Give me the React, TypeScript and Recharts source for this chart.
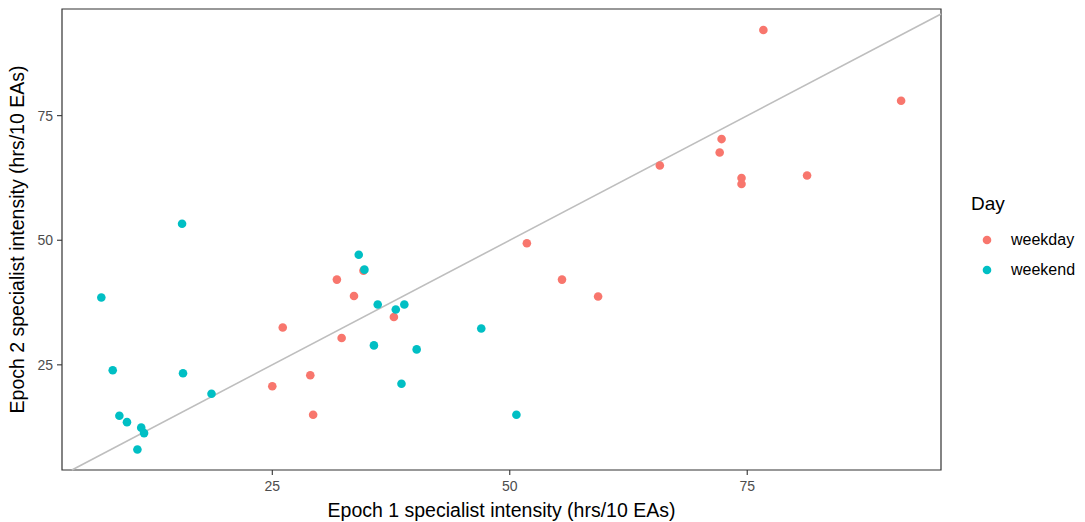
import { ScatterChart, Scatter, XAxis, YAxis, ReferenceLine, ReferenceArea, Legend } from 'recharts';

// ggplot default hue palette
const colors = {
  weekday: '#F8766D',
  weekend: '#00BFC4',
} as const;

const dayLevels = ['weekday', 'weekend'] as const;

// Epoch 1 (x) vs Epoch 2 (y) specialist intensity
const weekdayX = [76.7, 91.2, 72.3, 72.1, 65.8, 74.4, 74.4, 81.3, 51.8, 55.5, 59.3, 31.8, 34.6, 33.6, 37.8, 26.1, 32.3, 29.0, 25.0, 29.3];
const weekdayY = [92.2, 78.0, 70.3, 67.6, 65.0, 62.5, 61.3, 63.0, 49.4, 42.1, 38.7, 42.1, 43.9, 38.8, 34.6, 32.5, 30.4, 22.9, 20.7, 15.0];
const weekendX = [34.1, 34.7, 36.1, 38.0, 38.9, 35.7, 40.2, 47.0, 38.6, 50.7, 15.5, 7.0, 8.2, 15.6, 18.6, 8.9, 9.7, 11.2, 11.5, 10.8];
const weekendY = [47.1, 44.1, 37.1, 36.1, 37.1, 28.9, 28.1, 32.3, 21.2, 15.0, 53.3, 38.5, 23.9, 23.3, 19.2, 14.8, 13.5, 12.4, 11.3, 8.0];

const xTicks = [25, 50, 75];
const yTicks = [25, 50, 75];

const xDomain: [number, number] = [2.86, 95.4];
const yDomain: [number, number] = [3.9, 96.4];

const toPoints = (xs: number[], ys: number[]) => xs.map((x, i) => ({ x, y: ys[i] }));

const weekdayData = toPoints(weekdayX, weekdayY);
const weekendData = toPoints(weekendX, weekendY);

// y = x line clipped to the panel
const diagStart = Math.max(xDomain[0], yDomain[0]);
const diagEnd = Math.min(xDomain[1], yDomain[1]);

const FONT = '"Liberation Sans", Arial, sans-serif';

const Dot = (props: any) => {
  const { cx, cy, fill } = props;
  return <circle cx={cx} cy={cy} r={4.3} fill={fill} />;
};

function DayLegend() {
  return (
    <div style={{ fontFamily: FONT, paddingLeft: 30 }}>
      <div style={{ fontSize: 19, color: '#000', lineHeight: '20px', marginBottom: 11 }}>Day</div>
      {dayLevels.map((d) => (
        <div key={d} style={{ display: 'flex', alignItems: 'center', height: 30 }}>
          <svg width={34} height={30} style={{ marginLeft: -1 }}>
            <circle cx={17} cy={15} r={4.3} fill={colors[d]} />
          </svg>
          <span style={{ fontSize: 16, color: '#000', marginLeft: 7 }}>{d}</span>
        </div>
      ))}
    </div>
  );
}

export default function App() {
  return (
    <div style={{ position: 'absolute', left: 0, top: 0, background: '#fff' }}>
      <ScatterChart
        width={1085}
        height={522}
        margin={{ top: 9, right: 0, bottom: 0, left: 0 }}
        style={{ fontFamily: FONT }}
      >
        <XAxis
          type="number"
          dataKey="x"
          domain={xDomain}
          allowDataOverflow
          ticks={xTicks}
          height={52}
          tickSize={5}
          tickMargin={6}
          tick={{ fontSize: 14, fill: '#4d4d4d' }}
          axisLine={false}
          tickLine={{ stroke: '#333333', strokeWidth: 1.1 }}
          label={{
            value: 'Epoch 1 specialist intensity (hrs/10 EAs)',
            position: 'insideBottom',
            offset: 5,
            style: { fontSize: 19.5, fill: '#000' },
          }}
        />
        <YAxis
          type="number"
          dataKey="y"
          domain={yDomain}
          allowDataOverflow
          ticks={yTicks}
          width={62}
          tickSize={5}
          tickMargin={4}
          tick={{ fontSize: 14, fill: '#4d4d4d' }}
          axisLine={false}
          tickLine={{ stroke: '#333333', strokeWidth: 1.1 }}
          label={{
            value: 'Epoch 2 specialist intensity (hrs/10 EAs)',
            angle: -90,
            position: 'insideLeft',
            offset: 17,
            style: { fontSize: 19.5, fill: '#000', textAnchor: 'middle' },
          }}
        />
        <ReferenceLine
          segment={[
            { x: diagStart, y: diagStart },
            { x: diagEnd, y: diagEnd },
          ]}
          stroke="#bebebe"
          strokeWidth={1.6}
        />
        <Scatter name="weekday" data={weekdayData} fill={colors.weekday} shape={Dot} isAnimationActive={false} />
        <Scatter name="weekend" data={weekendData} fill={colors.weekend} shape={Dot} isAnimationActive={false} />
        <ReferenceArea
          x1={xDomain[0]}
          x2={xDomain[1]}
          y1={yDomain[0]}
          y2={yDomain[1]}
          fill="none"
          fillOpacity={0}
          stroke="#333333"
          strokeWidth={1.2}
        />
        <Legend
          layout="vertical"
          align="right"
          verticalAlign="middle"
          width={144}
          content={<DayLegend />}
          wrapperStyle={{ top: 194 }}
        />
      </ScatterChart>
    </div>
  );
}
